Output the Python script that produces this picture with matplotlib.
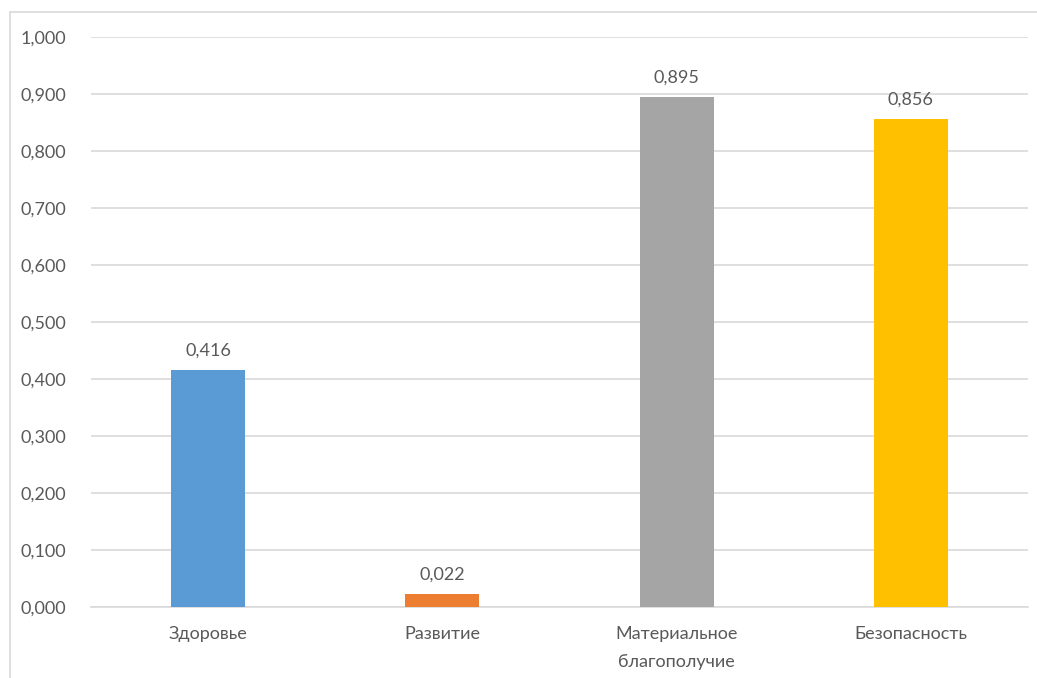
import matplotlib.pyplot as plt
from matplotlib.patches import Rectangle

categories = ['Здоровье', 'Развитие', 'Материальное\nблагополучие', 'Безопасность']
values = [0.416, 0.022, 0.895, 0.856]
labels = ['0,416', '0,022', '0,895', '0,856']
colors = ['#5B9BD5', '#ED7D31', '#A5A5A5', '#FFC000']
yticks = [0.0, 0.1, 0.2, 0.3, 0.4, 0.5, 0.6, 0.7, 0.8, 0.9, 1.0]

plt.rcParams['font.family'] = ['Lato', 'DejaVu Sans']
text_color = '#595959'

fig = plt.figure(figsize=(10.37, 6.78), dpi=100)
ax = fig.add_axes([0.0878, 0.1047, 0.9035, 0.8407])

# chart border (Excel-like frame)
fig.patches.append(Rectangle((10 / 1037, -0.1), 1.2, 1 - 12 / 678 + 0.1,
                             transform=fig.transFigure, fill=False,
                             edgecolor='#D9D9D9', linewidth=1.2))

x = range(len(categories))
ax.bar(x, values, width=0.316, color=colors, zorder=3)

for xi, v, lab in zip(x, values, labels):
    ax.text(xi, v + 0.02, lab, ha='center', va='bottom', fontsize=13, color=text_color)

ax.set_xlim(-0.5, 3.5)
ax.set_ylim(0, 1.0)
ax.set_yticks(yticks)
ax.set_yticklabels([f'{t:.3f}'.replace('.', ',') for t in yticks])
ax.set_xticks(list(x))
ax.set_xticklabels(categories, linespacing=1.85)
ax.tick_params(axis='both', length=0, labelsize=13, colors=text_color)
ax.tick_params(axis='y', pad=18)
ax.tick_params(axis='x', pad=14)
ax.yaxis.grid(True, color='#D9D9D9', linewidth=1.2, zorder=0)
for s in ['top', 'right', 'left']:
    ax.spines[s].set_visible(False)
ax.spines['bottom'].set_color('#D9D9D9')
ax.spines['bottom'].set_linewidth(1.2)
ax.set_axisbelow(True)

fig.savefig('out.png', dpi=100)
